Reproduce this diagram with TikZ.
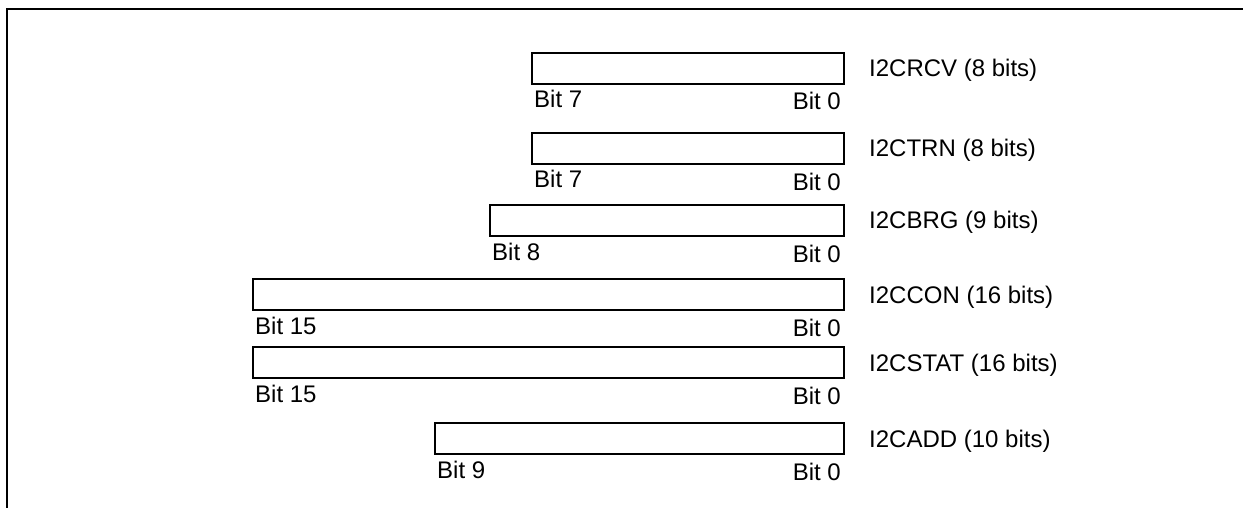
\documentclass[tikz,border=0pt]{standalone}
\usepackage{fontspec}
\setmainfont{Liberation Sans}
\begin{document}
\begin{tikzpicture}[x=1pt,y=-1pt,
  reg/.style={draw=black,line width=1.9pt,inner sep=0pt,anchor=north east,minimum height=31pt},
  txt/.style={inner sep=0pt,font=\fontsize{24}{28}\selectfont},
  frameline/.style={line width=2.6pt}]
\useasboundingbox (0,0) rectangle (1243,508);
\coordinate (fl) at (7,508);
\coordinate (fc) at (7,9);
\coordinate (fr) at (1243,9);
\draw[frameline] (fl) -- (fc) -- (fr);
% rows: name, left, top, label, left-bit
\foreach \n/\l/\t/\lab/\lb in {
  a/533/52/I2CRCV (8 bits)/Bit 7,
  b/533/132/I2CTRN (8 bits)/Bit 7,
  c/491/204/I2CBRG (9 bits)/Bit 8,
  d/254/278/I2CCON (16 bits)/Bit 15,
  e/254/346/I2CSTAT (16 bits)/Bit 15,
  f/436/422/I2CADD (10 bits)/Bit 9}{
  \pgfmathsetmacro{\w}{845-\l}
  \node[reg,minimum width=\w pt] (box\n) at (845,\t) {};
  \node[txt,anchor=base west] (lab\n) at (869,\t+25) {\lab};
  \node[txt,anchor=base west] (hi\n) at (\l+1,\t+56) {\lb};
  \node[txt,anchor=base east] (lo\n) at (841,\t+58) {Bit 0};
}
\end{tikzpicture}
\end{document}
